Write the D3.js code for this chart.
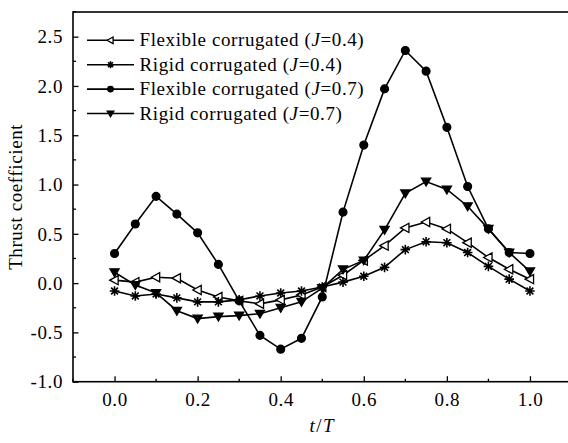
<!DOCTYPE html>
<html>
<head>
<meta charset="utf-8">
<script src="https://cdn.jsdelivr.net/npm/d3@7"></script>
<style>
  body { margin: 0; background: #fff; }
  svg { display: block; }
  text { font-family: "Liberation Serif", "DejaVu Serif", serif; fill: #000; }
</style>
</head>
<body>
<svg id="chart" width="568" height="443"></svg>
<script>
// t/T sample positions
var tValues = [0, 0.05, 0.1, 0.15, 0.2, 0.25, 0.3, 0.35, 0.4, 0.45, 0.5,
               0.55, 0.6, 0.65, 0.7, 0.75, 0.8, 0.85, 0.9, 0.95, 1.0]

var flexible04 = [0.03, 0.01, 0.06, 0.05, -0.07, -0.14, -0.18, -0.21, -0.17, -0.12, -0.04,
                  0.08, 0.23, 0.38, 0.56, 0.62, 0.55, 0.41, 0.26, 0.14, 0.04]
var rigid04 = [-0.08, -0.13, -0.11, -0.15, -0.19, -0.19, -0.17, -0.13, -0.10, -0.08, -0.04,
               0.01, 0.07, 0.16, 0.34, 0.42, 0.41, 0.31, 0.17, 0.04, -0.08]
var flexible07 = [0.30, 0.60, 0.88, 0.70, 0.51, 0.19, -0.18, -0.53, -0.67, -0.56, -0.14,
                  0.72, 1.40, 1.97, 2.36, 2.15, 1.58, 0.98, 0.55, 0.31, 0.30]
var rigid07 = [0.11, -0.02, -0.10, -0.28, -0.36, -0.34, -0.33, -0.31, -0.25, -0.19, -0.05,
               0.14, 0.23, 0.54, 0.91, 1.03, 0.95, 0.78, 0.55, 0.31, 0.12]

var seriesNames = ["Flexible corrugated", "Rigid corrugated", "Flexible corrugated", "Rigid corrugated"]
var seriesJ = ["0.4", "0.4", "0.7", "0.7"]
var seriesMarkers = ["triLeft", "star", "circle", "triDown"]
var seriesValues = [flexible04, rigid04, flexible07, rigid07]

var xTicks = [0, 0.2, 0.4, 0.6, 0.8, 1.0]
var xMinor = [-0.1, 0.1, 0.3, 0.5, 0.7, 0.9, 1.1]
var yTicks = [-1.0, -0.5, 0.0, 0.5, 1.0, 1.5, 2.0, 2.5]
var yMinor = [-0.75, -0.25, 0.25, 0.75, 1.25, 1.75, 2.25, 2.75]

var svg = d3.select("#chart")
var pLeft = 73, pRight = 571.5, pTop = 12, pBottom = 381.7
var fontSize = "19px", spacing = "0.6px"

var x = d3.scaleLinear().domain([-0.1, 1.1]).range([pLeft, pRight])
var y = d3.scaleLinear().domain([-1, 2.75]).range([pBottom, pTop])

// marker paths
function markerPath(type) {
    if (type == "circle") return d3.symbol(d3.symbolCircle, 48)()
    if (type == "triDown") return "M-4.6,-3.4L4.6,-3.4L0,4.4Z"
    if (type == "triLeft") return "M-4.8,0L3.6,-4.6L3.6,4.6Z"
    var r = 4.8, d = 3.4
    return "M0," + (-r) + "L0," + r + "M" + (-r) + ",0L" + r + ",0" +
           "M" + (-d) + "," + (-d) + "L" + d + "," + d + "M" + (-d) + "," + d + "L" + d + "," + (-d)
}
function drawMarker(g, type, k) {
    k = k || 1
    g.append("path")
        .attr("d", markerPath(type))
        .attr("transform", "scale(" + k + ")")
        .attr("fill", type == "triLeft" ? "#fff" : (type == "star" ? "none" : "#000"))
        .attr("stroke", "#000")
        .attr("stroke-width", (type == "star" ? 1.6 : 1.3) / k)
}

// axes frame
svg.append("rect")
    .attr("x", pLeft).attr("y", pTop)
    .attr("width", pRight - pLeft).attr("height", pBottom - pTop)
    .attr("fill", "none").attr("stroke", "#000").attr("stroke-width", 1.6)

// x axis ticks (inward)
var xAxis = svg.append("g").attr("transform", "translate(0," + pBottom + ")")
xAxis.call(d3.axisBottom(x).tickValues(xTicks).tickSizeInner(-5.5).tickSizeOuter(0).tickFormat(d3.format(".1f")))
xAxis.select(".domain").remove()
xAxis.selectAll(".tick line").attr("stroke-width", 1.3)
xAxis.selectAll(".tick text").attr("y", 24).attr("dy", 0)
    .style("font-size", fontSize).style("font-family", "Liberation Serif").style("letter-spacing", spacing)
xAxis.selectAll(".minor").data(xMinor).enter().append("line")
    .attr("x1", d => x(d)).attr("x2", d => x(d)).attr("y1", 0).attr("y2", -3)
    .attr("stroke", "#000").attr("stroke-width", 1.3)

// y axis ticks (inward)
var yAxis = svg.append("g").attr("transform", "translate(" + pLeft + ",0)")
yAxis.call(d3.axisLeft(y).tickValues(yTicks).tickSizeInner(-5.5).tickSizeOuter(0).tickFormat(d => d.toFixed(1)))
yAxis.select(".domain").remove()
yAxis.selectAll(".tick line").attr("stroke-width", 1.3)
yAxis.selectAll(".tick text").attr("x", -10).attr("dy", "0.33em")
    .style("font-size", fontSize).style("font-family", "Liberation Serif").style("letter-spacing", spacing)
yAxis.selectAll(".minor").data(yMinor).enter().append("line")
    .attr("y1", d => y(d)).attr("y2", d => y(d)).attr("x1", 0).attr("x2", 3)
    .attr("stroke", "#000").attr("stroke-width", 1.3)

// axis titles
svg.append("text")
    .attr("transform", "translate(22," + ((pTop + pBottom) / 2) + ") rotate(-90)")
    .attr("text-anchor", "middle")
    .style("font-size", fontSize).style("letter-spacing", spacing)
    .text("Thrust coefficient")

var xt = svg.append("text")
    .attr("x", (pLeft + pRight) / 2).attr("y", 432)
    .attr("text-anchor", "middle")
    .style("font-size", fontSize).style("letter-spacing", "1.5px")
xt.append("tspan").style("font-style", "italic").text("t")
xt.append("tspan").text("/")
xt.append("tspan").style("font-style", "italic").text("T")

// series
var line = d3.line().x((d, i) => x(tValues[i])).y(d => y(d))
seriesValues.forEach((vals, s) => {
    svg.append("path")
        .datum(vals)
        .attr("d", line)
        .attr("fill", "none")
        .attr("stroke", "#000")
        .attr("stroke-width", 1.6)
    vals.forEach((v, i) => {
        var g = svg.append("g").attr("transform", "translate(" + x(tValues[i]) + "," + y(v) + ")")
        drawMarker(g, seriesMarkers[s])
    })
})

// legend
var legend = svg.append("g")
seriesNames.forEach((name, i) => {
    var ly = 40.3 + i * 24.4
    legend.append("line")
        .attr("x1", 87).attr("x2", 134).attr("y1", ly).attr("y2", ly)
        .attr("stroke", "#000").attr("stroke-width", 1.6)
    drawMarker(legend.append("g").attr("transform", "translate(110.5," + ly + ")"), seriesMarkers[i], 0.72)
    var t = legend.append("text")
        .attr("x", 139.5).attr("y", ly + 6)
        .style("font-size", fontSize).style("letter-spacing", spacing)
    t.append("tspan").text(name + " (")
    t.append("tspan").style("font-style", "italic").text("J")
    t.append("tspan").text("=" + seriesJ[i] + ")")
})
</script>
</body>
</html>
